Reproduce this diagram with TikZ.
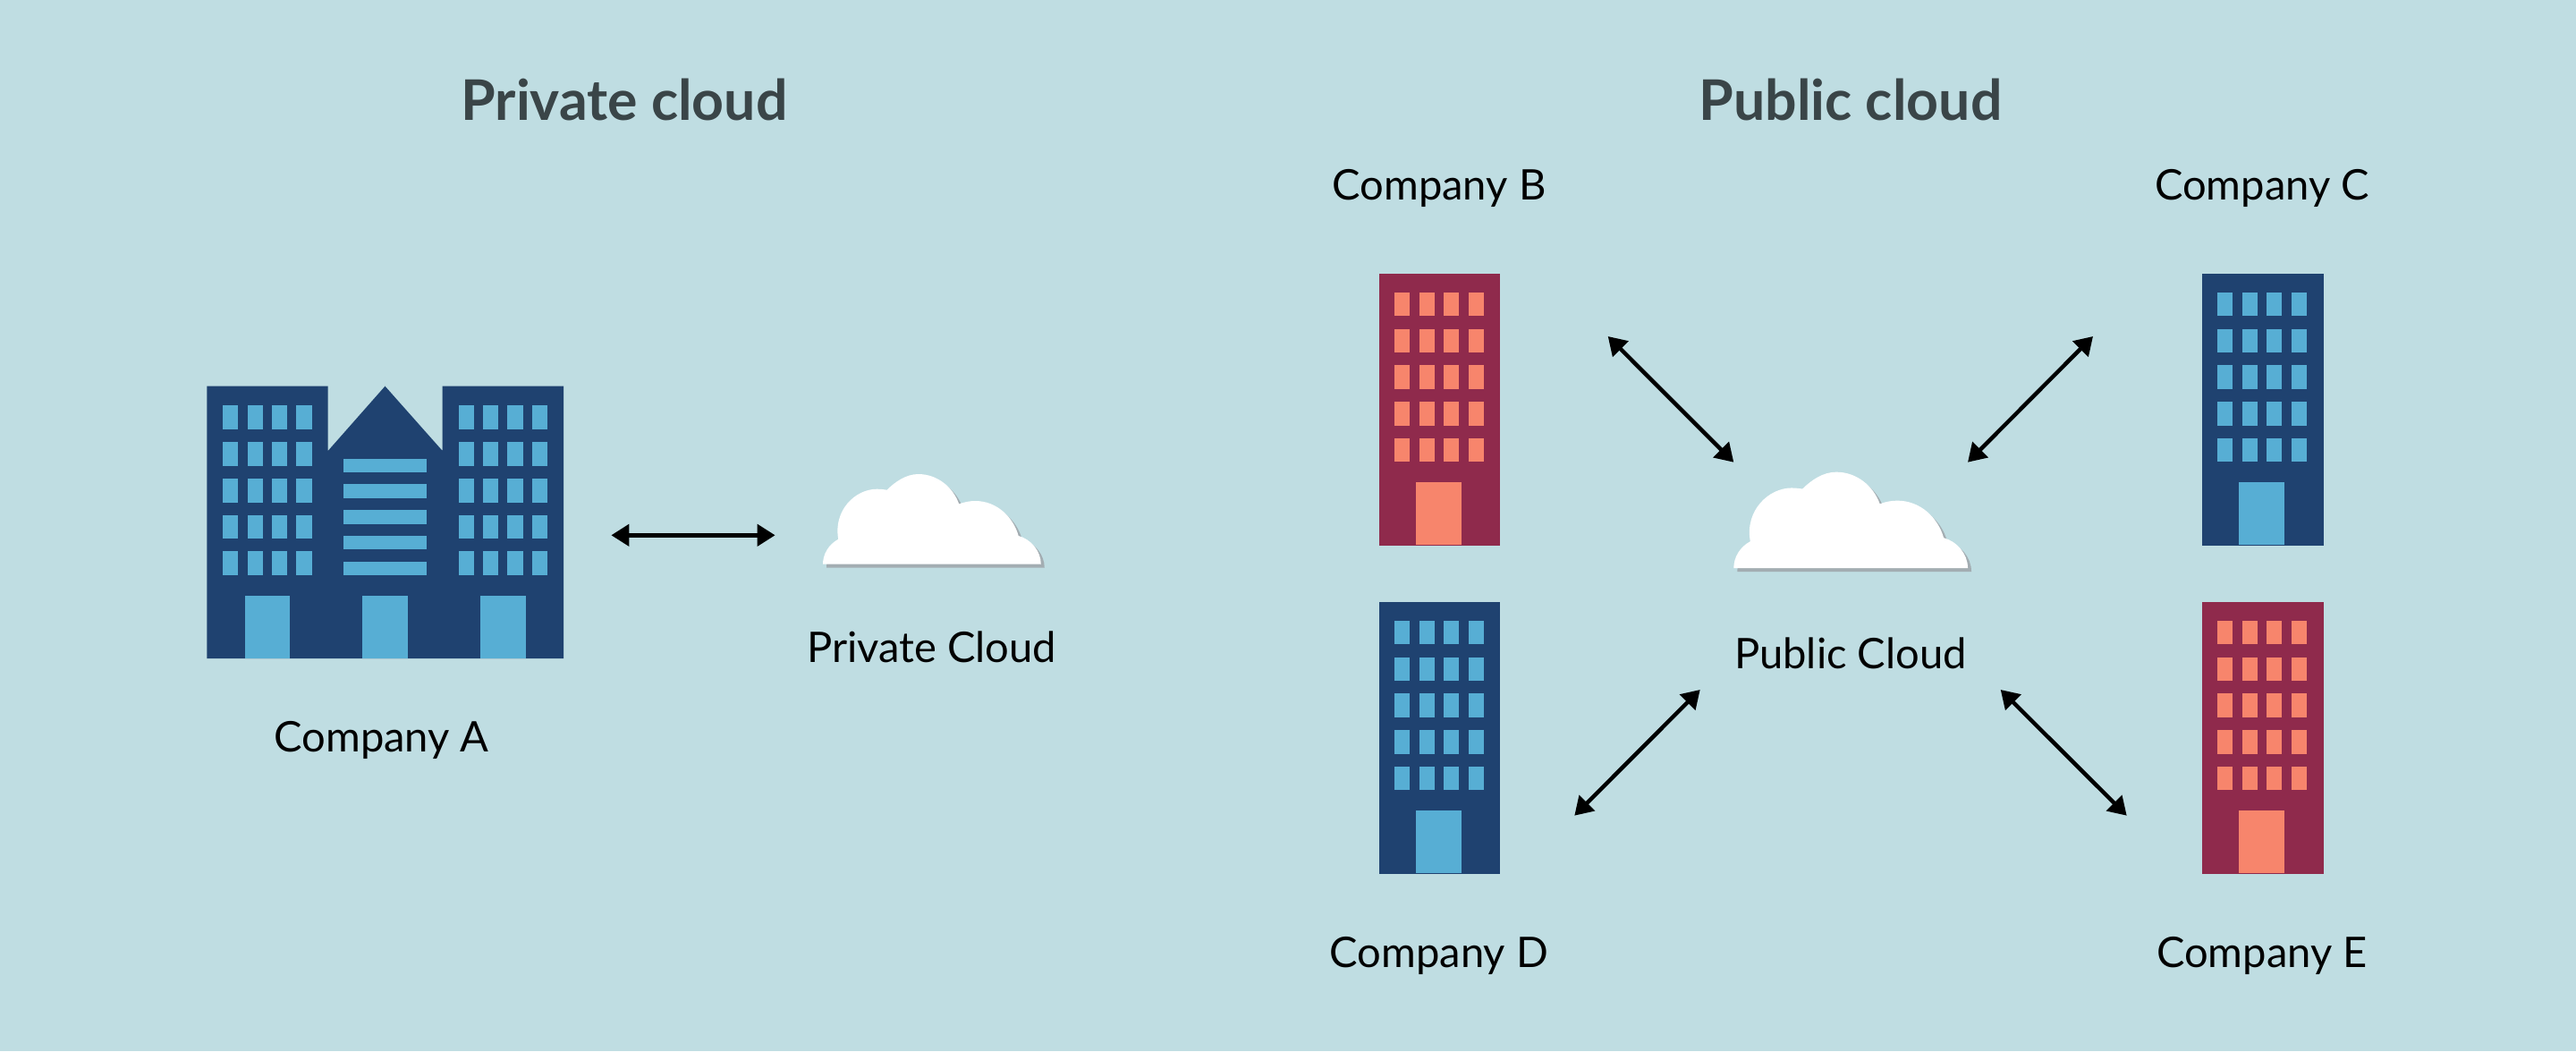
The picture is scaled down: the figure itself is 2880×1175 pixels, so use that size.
\documentclass[tikz,border=0pt]{standalone}
\usepackage{fontspec}
\setmainfont{Lato}
\usetikzlibrary{arrows.meta}

\definecolor{paleBg}{HTML}{BFDDE2}
\definecolor{navyWall}{HTML}{1F4270}
\definecolor{skyWin}{HTML}{57AED4}
\definecolor{wineWall}{HTML}{8F2A4C}
\definecolor{salmonWin}{HTML}{F7856C}
\definecolor{cloudShade}{HTML}{A3ADB2}
\definecolor{titleInk}{HTML}{3A4548}

% one tower: name, x, y, wall, windows
\newcommand{\towerAt}[5]{
    \node[tower_box, fill=#4] (#1) at (#2,#3) {};
    \foreach \wx in {17.8,45.2,72.7,100.2}
        \foreach \wy in {21.7,62.5,103.3,144,184.7}
            \fill[#5] ([shift={(\wx,\wy)}]#1.north west) rectangle +(17.3,26.7);
    \fill[#5] ([shift={(42,234)}]#1.north west) rectangle ([shift={(93,304.3)}]#1.north west);
}

% one cloud: name, x, y of lower left corner, xscale, yscale
\newcommand{\cloudOutline}{
    (0,0) .. controls (0,-11) and (6,-22) .. (16.7,-28)
    .. controls (11,-60) and (35,-84) .. (58.3,-84)
    .. controls (62,-84) and (66,-83.5) .. (69.3,-83)
    .. controls (78,-92) and (90,-100.7) .. (103.3,-100.7)
    .. controls (124,-100.7) and (141,-86) .. (147.3,-67.3)
    .. controls (153,-69.5) and (159,-70.7) .. (165,-70.7)
    .. controls (188,-70.7) and (206,-53) .. (211.7,-31.7)
    .. controls (225,-28) and (236,-15) .. (236,0) -- cycle
}
\newcommand{\cloudAt}[5]{
    \coordinate (#1) at (#2,#3);
    \fill[cloudShade, shift={(#2+4,#3+4)}, xscale=#4, yscale=#5] \cloudOutline;
    \fill[white, shift={(#2,#3)}, xscale=#4, yscale=#5] \cloudOutline;
}

\begin{document}
\begin{tikzpicture}[
    x=0.01cm, y=-0.01cm,
    tower_box/.style={rectangle, anchor=north west, inner sep=0pt, minimum width=1.354cm, minimum height=3.043cm},
    title_label/.style={anchor=base, inner sep=0pt, text=titleInk, font=\fontsize{17.8}{21}\selectfont\bfseries},
    co_label/.style={anchor=base, inner sep=0pt, text=black, font=\fontsize{13.4}{16}\selectfont},
    link/.style={{Triangle[length=0.2cm, width=0.24cm]}-{Triangle[length=0.2cm, width=0.24cm]}, line width=0.45mm, black}
]

\fill[paleBg] (0,0) rectangle (2880,1175);

% Titel
\node[title_label] (privTitle) at (698,134) {Private cloud};
\node[title_label] (pubTitle) at (2069,134) {Public cloud};

% Company A
\coordinate (hq) at (231.3,431.7);
\fill[navyWall] (hq) -- (366.7,431.7) -- (366.7,504) -- (430.5,431.7) -- (494.7,504) -- (494.7,431.7)
    -- (630,431.7) -- (630,736) -- (231.3,736) -- cycle;
\foreach \wy in {453.3,494.3,535,575.7,616.3}
    \foreach \wx in {249,276.7,304,331.3,512.7,540,567.3,595}
        \fill[skyWin] (\wx,\wy) rectangle +(17.3,26.7);
\foreach \wy in {512.7,541.3,570.3,599,628}
    \fill[skyWin] (384.3,\wy) rectangle (477,\wy+15.3);
\foreach \wx in {273.7,405.3,537.3}
    \fill[skyWin] (\wx,665.7) rectangle +(50.3,70.3);
\node[co_label] (labelA) at (426.7,840.7) {Company A};

% Towers
\towerAt{towerB}{1541.3}{305}{wineWall}{salmonWin}
\towerAt{towerC}{2461.3}{305}{navyWall}{skyWin}
\towerAt{towerD}{1541.3}{672}{navyWall}{skyWin}
\towerAt{towerE}{2461.3}{672}{wineWall}{salmonWin}
\node[co_label] (labelB) at (1609,223.3) {Company B};
\node[co_label] (labelC) at (2529,223.3) {Company C};
\node[co_label] (labelD) at (1609,1081.7) {Company D};
\node[co_label] (labelE) at (2529,1081.7) {Company E};

% Clouds
\cloudAt{privCloud}{920}{630.7}{1.033}{1}
\cloudAt{pubCloud}{1938.3}{635}{1.109}{1.066}
\node[co_label] (labelPriv) at (1041.7,740.7) {Private Cloud};
\node[co_label] (labelPub) at (2069,747.7) {Public Cloud};

% Arrows
\coordinate (aHq) at (683.4,598.3);
\coordinate (aPriv) at (866.6,598.3);
\coordinate (aB) at (1797.7,376);
\coordinate (aBin) at (1938.3,516.7);
\coordinate (aC) at (2340,376);
\coordinate (aCin) at (2200,516.7);
\coordinate (aD) at (1760.3,911.7);
\coordinate (aDin) at (1900.7,771);
\coordinate (aE) at (2377.7,911.7);
\coordinate (aEin) at (2236.7,771);
\draw[link] (aHq) -- (aPriv);
\draw[link] (aB) -- (aBin);
\draw[link] (aC) -- (aCin);
\draw[link] (aD) -- (aDin);
\draw[link] (aE) -- (aEin);

\end{tikzpicture}
\end{document}
